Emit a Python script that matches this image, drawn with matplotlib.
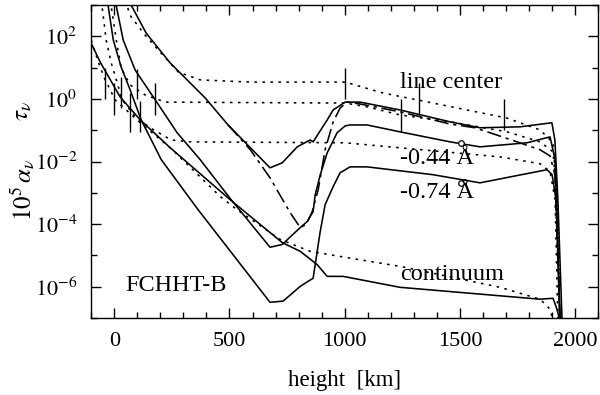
import matplotlib
matplotlib.use("Agg")
import matplotlib.pyplot as plt
from matplotlib.ticker import FixedLocator, FuncFormatter, MultipleLocator
import numpy as np

plt.rcParams["font.family"] = ["Liberation Serif", "DejaVu Serif"]
plt.rcParams["mathtext.fontset"] = "stix"

# heights in km, values given as log10
lc_alpha_h = [69, 139, 243, 395, 494, 676, 729, 794, 850, 863, 924, 950, 1002, 1067,
              1240, 1457, 1587, 1761, 1899, 1912, 1925, 1943]
lc_alpha_v = [3.06, 2.10, 1.15, 0.03, -0.83, -2.20, -2.04, -1.53, -1.31, -1.37, -0.67, -0.35,
              -0.10, -0.10, -0.35, -0.73, -0.92, -0.89, -0.76, -1.31, -3.2, -7.04]

w44_alpha_h = [4, 39, 91, 178, 273, 373, 503, 676, 729, 807, 837, 863, 872, 894, 924, 967,
               1002, 1023, 1097, 1240, 1457, 1587, 1791, 1891, 1913, 1934]
w44_alpha_v = [3.15, 1.88, 0.92, -0.03, -1.08, -1.94, -3.18, -4.74, -4.65, -4.11, -3.92, -3.60,
               -3.06, -2.42, -1.72, -1.08, -0.86, -0.83, -0.83, -1.05, -1.37, -1.53, -1.40,
               -1.21, -1.94, -7.04]

w74_alpha_h = [-30, -4, 30, 69, 117, 204, 364, 676, 733, 807, 841, 863, 893, 915, 950, 980,
               1023, 1097, 1383, 1587, 1878, 1900, 1917, 1934]
w74_alpha_v = [3.15, 1.88, 1.02, 0.29, -0.67, -1.94, -3.54, -6.50, -6.46, -5.99, -5.83, -5.73,
               -4.27, -3.38, -2.80, -2.36, -2.17, -2.17, -2.42, -2.68, -2.26, -2.42, -3.22, -7.04]

cont_alpha_h = [-100, -61, 26, 113, 243, 373, 503, 729, 807, 880, 924, 993, 1240, 1848, 1904,
                1921, 1943]
cont_alpha_v = [1.78, 1.18, 0.06, -0.67, -1.56, -2.39, -3.22, -4.59, -4.87, -5.29, -5.67, -5.67,
                -6.02, -6.40, -6.37, -6.72, -7.36]

lte_alpha_h = [494, 590, 676, 763, 807, 833, 859, 885, 915, 950, 980, 1010, 1067, 1240, 1457,
               1565, 1696, 1847, 1891, 1912, 1934]
lte_alpha_v = [-0.83, -1.62, -2.52, -3.63, -4.11, -4.01, -3.60, -2.90, -1.62, -0.73, -0.29,
               -0.10, -0.16, -0.41, -0.80, -0.92, -1.24, -1.62, -1.82, -2.42, -7.04]

lc_tau_h = [48, 69, 134, 204, 278, 373, 590, 1002, 1167, 1383, 1704, 1848, 1904, 1921, 1934]
lc_tau_v = [3.15, 2.67, 2.04, 1.46, 0.86, 0.61, 0.54, 0.54, 0.19, -0.13, -0.61, -0.99, -1.40,
            -3.22, -7.04]

w44_tau_h = [-17, 9, 30, 69, 134, 221, 1002, 1097, 1240, 1457, 1704, 1848, 1904, 1921, 1934]
w44_tau_v = [3.15, 1.88, 0.99, 0.45, 0.13, -0.10, -0.13, -0.25, -0.51, -0.73, -1.05, -1.37,
             -1.69, -3.22, -7.04]

w74_tau_h = [-56, -35, -13, 9, 35, 91, 156, 247, 330, 1002, 1240, 1674, 1848, 1891, 1913, 1925]
w74_tau_v = [3.15, 1.88, 1.15, 0.61, -0.03, -0.57, -0.92, -1.31, -1.37, -1.40, -1.56, -1.85,
             -2.07, -2.32, -3.22, -7.04]

cont_tau_h = [-100, -69, -43, 4, 113, 252, 460, 533, 720, 850, 1002, 1240, 1674, 1848, 1891, 1913]
cont_tau_v = [1.88, 1.18, 0.67, -0.03, -0.76, -1.62, -3.12, -3.54, -4.49, -4.87, -5.06, -5.35,
              -6.02, -6.40, -6.72, -7.36]

# vertical bars: height, log10 bottom, log10 top
bar_h = [-39, 0, 30, 69, 100, 113, 178, 1002, 1245, 1323, 1691]
bar_lo = [0.0, -0.5, -0.3, -1.05, 0.0, -1.05, -0.5, 0.0, -1.05, -0.5, -1.0]
bar_hi = [1.0, 0.5, 0.7, 0.2, 0.95, -0.05, 0.5, 1.0, 0.0, 0.5, 0.0]

# open circles at 1500 km
circ_h = [1505, 1505]
circ_v = [-1.40, -2.68]

labels = ["line center", "-0.44 \u00c5", "-0.74 \u00c5", "continuum"]
label_h = [1240, 1240, 1240, 1240]
label_v = [0.53, -1.9, -3.0, -5.6]


def p(v):
    return np.power(10.0, np.asarray(v))


fig = plt.figure(figsize=(6.0, 3.95), dpi=100)
ax = fig.add_axes([0.152, 0.195, 0.845, 0.792])
ax.set_yscale("log")

lw = 1.15
for h, v in [(lc_alpha_h, lc_alpha_v), (w44_alpha_h, w44_alpha_v),
             (w74_alpha_h, w74_alpha_v), (cont_alpha_h, cont_alpha_v)]:
    ax.plot(h, p(v), color="black", lw=lw)
ax.plot(lte_alpha_h, p(lte_alpha_v), color="black", lw=lw, ls=(0, (9, 3, 2, 3)))
for h, v in [(lc_tau_h, lc_tau_v), (w44_tau_h, w44_tau_v),
             (w74_tau_h, w74_tau_v), (cont_tau_h, cont_tau_v)]:
    ax.plot(h, p(v), color="black", lw=lw, ls=(0, (1.6, 3.4)))

ax.vlines(bar_h, p(bar_lo), p(bar_hi), color="black", lw=1.0)
ax.plot(circ_h, p(circ_v), ls="none", marker="o", ms=4, mfc="white", mec="black", mew=0.9)

for t, h, v in zip(labels, label_h, label_v):
    ax.text(h, 10 ** v, t, fontsize=17.5, ha="left", va="center")
ax.text(48, 10 ** -5.95, "FCHHT-B", fontsize=17.5, ha="left", va="center")

ax.set_xlim(-100, 2100)
ax.set_ylim(1e-7, 1e3)
ax.xaxis.set_major_locator(MultipleLocator(500))
ax.xaxis.set_minor_locator(MultipleLocator(100))
ax.yaxis.set_major_locator(FixedLocator([10.0 ** k for k in range(-6, 3, 2)]))
ax.yaxis.set_minor_locator(FixedLocator([10.0 ** k for k in range(-7, 4, 2)]))
ax.yaxis.set_major_formatter(FuncFormatter(lambda y, pos: r"$10^{%d}$" % round(np.log10(y))))
ax.yaxis.set_minor_formatter(FuncFormatter(lambda y, pos: ""))
ax.tick_params(which="both", direction="in", top=True, right=True, labelsize=16)
ax.tick_params(which="major", length=7, width=1.0, pad=10)
ax.tick_params(which="minor", length=4, width=1.0)
for s in ax.spines.values():
    s.set_linewidth(1.0)

ax.set_xlabel("height  [km]", fontsize=16.5, labelpad=14)
fig.text(0.038, 0.72, r"$\tau_\nu$", fontsize=18, rotation=90, ha="center", va="center")
fig.text(0.038, 0.52, r"$10^5\,\alpha_\nu$", fontsize=18, rotation=90, ha="center", va="center")

fig.savefig("out.png", dpi=100)
